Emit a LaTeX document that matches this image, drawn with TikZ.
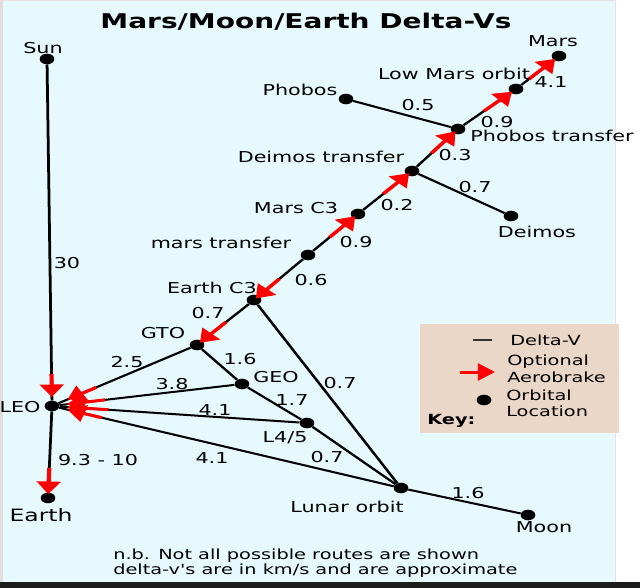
\documentclass[tikz,border=0pt]{standalone}
\usepackage{fontspec}
\setmainfont{DejaVu Sans}
\usetikzlibrary{arrows.meta,calc}
\definecolor{panel}{RGB}{230,249,253}
\definecolor{keybg}{RGB}{235,215,200}
\definecolor{aero}{RGB}{255,0,0}
\definecolor{rim}{RGB}{238,222,222}
\definecolor{leftstrip}{RGB}{226,220,220}
\definecolor{bottombar}{RGB}{28,28,28}
\newcommand\straightq{\XeTeXglyph\XeTeXcharglyph"0027\relax}
\tikzset{
  dot/.style={circle, fill=black, inner sep=0pt, minimum size=10.6pt},
  lbl/.style={inner sep=0pt, font=\fontsize{15}{18}\selectfont},
  keytxt/.style={inner sep=0pt, anchor=west, font=\fontsize{14}{16}\selectfont},
  notetxt/.style={inner sep=0pt, anchor=west, font=\fontsize{14}{16}\selectfont},
  dv/.style={line width=2pt, black},
  aerob/.style={aero, line width=3pt, -{Triangle[length=12.5pt,width=17pt]}}
}
\begin{document}
\begin{tikzpicture}[x=1pt,y=-1pt]
\useasboundingbox (0,0) rectangle (640,588);
\fill[white] (0,0) rectangle (640,588);
\fill[leftstrip] (0,0) rectangle (3,582);
\fill[panel] (3,1) rectangle (615,582);
\draw[rim, line width=1pt] (3,0.5) -- (615,0.5) -- (615,582);
\fill[bottombar] (0,582) rectangle (640,588);
\fill[keybg] (420,324) rectangle (619,433);

\begin{scope}[transform canvas={xscale=1.38}, x=0.72464pt, y=-1pt]
% title
\node[inner sep=0pt, font=\bfseries\fontsize{20.3}{24}\selectfont] (title) at (306,22) {Mars/Moon/Earth Delta-Vs};

% orbital locations
\node[dot] (sun) at (47,59) {};
\node[dot] (leo) at (52,406) {};
\node[dot] (earth) at (48,498) {};
\node[dot] (gto) at (197,345) {};
\node[dot] (ec3) at (254,300) {};
\node[dot] (mt) at (308,255) {};
\node[dot] (mc3) at (358,214) {};
\node[dot] (dt) at (412,171) {};
\node[dot] (pt) at (458,129) {};
\node[dot] (lmo) at (516,89) {};
\node[dot] (mars) at (559,56) {};
\node[dot] (phobos) at (346,99) {};
\node[dot] (deimos) at (511,216) {};
\node[dot] (geo) at (242,384) {};
\node[dot] (l45) at (307,423) {};
\node[dot] (lunar) at (401,488) {};
\node[dot] (moon) at (528,515) {};

% delta-v connectors
\draw[dv] (sun) -- (leo);
\draw[dv] (leo) -- (earth);
\draw[dv] (leo) -- (gto);
\draw[dv] (leo) -- (geo);
\draw[dv] (leo) -- (l45);
\draw[dv] (leo) -- (lunar);
\draw[dv] (gto) -- (ec3);
\draw[dv] (gto) -- (geo);
\draw[dv] (geo) -- (l45);
\draw[dv] (l45) -- (lunar);
\draw[dv] (ec3) -- (lunar);
\draw[dv] (lunar) -- (moon);
\draw[dv] (ec3) -- (mt);
\draw[dv] (mt) -- (mc3);
\draw[dv] (mc3) -- (dt);
\draw[dv] (dt) -- (deimos);
\draw[dv] (dt) -- (pt);
\draw[dv] (pt) -- (phobos);
\draw[dv] (pt) -- (lmo);
\draw[dv] (lmo) -- (mars);

% optional aerobrake arrows
\draw[aerob] ($(leo)!32pt!(sun)$) -- ($(leo)!9pt!(sun)$);
\draw[aerob] ($(earth)!30pt!(leo)$) -- ($(earth)!4pt!(leo)$);
\draw[aerob] ($(leo)!37pt!(gto)$) -- ($(leo)!13pt!(gto)$);
\draw[aerob] ($(leo)!39pt!(geo)$) -- ($(leo)!11pt!(geo)$);
\draw[aerob] ($(leo)!41pt!(l45)$) -- ($(leo)!11pt!(l45)$);
\draw[aerob] ($(leo)!38pt!(lunar)$) -- ($(leo)!12pt!(lunar)$);
\draw[aerob] ($(gto)!31pt!(ec3)$) -- ($(gto)!3pt!(ec3)$);
\draw[aerob] ($(ec3)!28pt!(mt)$) -- ($(ec3)!2pt!(mt)$);
\draw[aerob] ($(mc3)!31pt!(mt)$) -- ($(mc3)!3pt!(mt)$);
\draw[aerob] ($(dt)!31pt!(mc3)$) -- ($(dt)!3pt!(mc3)$);
\draw[aerob] ($(pt)!31pt!(dt)$) -- ($(pt)!3pt!(dt)$);
\draw[aerob] ($(lmo)!32pt!(pt)$) -- ($(lmo)!4pt!(pt)$);
\draw[aerob] ($(mars)!32pt!(lmo)$) -- ($(mars)!4pt!(lmo)$);

% location labels
\node[lbl] (tsun) at (43,48) {Sun};
\node[lbl] (tleo) at (20,407) {LEO};
\node[inner sep=0pt, font=\fontsize{17}{20}\selectfont] (tearth) at (41,515) {Earth};
\node[lbl] (tgto) at (163,333) {GTO};
\node[lbl] (tec3) at (212,288) {Earth C3};
\node[lbl] (tmt) at (221,243) {mars transfer};
\node[lbl] (tmc3) at (296,208) {Mars C3};
\node[lbl] (tdt) at (321,157) {Deimos transfer};
\node[lbl] (tpt) at (552,136) {Phobos transfer};
\node[lbl] (tlmo) at (454,74) {Low Mars orbit};
\node[lbl] (tmars) at (553,41) {Mars};
\node[lbl] (tphobos) at (300,90) {Phobos};
\node[lbl] (tdeimos) at (537,232) {Deimos};
\node[lbl] (tgeo) at (276,377) {GEO};
\node[lbl] (tl45) at (285,438) {L4/5};
\node[lbl] (tlunar) at (347,507) {Lunar orbit};
\node[lbl] (tmoon) at (544,527) {Moon};

% delta-v values
\node[lbl] (v30) at (67,263) {30};
\node[lbl] (v93) at (98,460) {9.3 - 10};
\node[lbl] (v25) at (127,362) {2.5};
\node[lbl] (v38) at (172,384) {3.8};
\node[lbl] (v41a) at (215,410) {4.1};
\node[lbl] (v41b) at (212,458) {4.1};
\node[lbl] (v16a) at (240,359) {1.6};
\node[lbl] (v17) at (292,400) {1.7};
\node[lbl] (v07a) at (327,457) {0.7};
\node[lbl] (v07b) at (340,383) {0.7};
\node[lbl] (v07c) at (208,313) {0.7};
\node[lbl] (v06) at (311,280) {0.6};
\node[lbl] (v09a) at (356,242) {0.9};
\node[lbl] (v02) at (397,205) {0.2};
\node[lbl] (v03) at (455,155) {0.3};
\node[lbl] (v07d) at (475,187) {0.7};
\node[lbl] (v05) at (418,105) {0.5};
\node[lbl] (v09b) at (497,122) {0.9};
\node[lbl] (v41c) at (551,82) {4.1};
\node[lbl] (v16b) at (468,493) {1.6};

% key
\coordinate (kl1) at (473,340);
\coordinate (kl2) at (492,340);
\draw[line width=1.5pt, black!80] (kl1) -- (kl2);
\node[keytxt] (kdv) at (510,340) {Delta-V};
\coordinate (ka1) at (460,372);
\coordinate (ka2) at (495,372);
\draw[aerob] (ka1) -- (ka2);
\node[keytxt] (kopt) at (507,362) {Optional};
\node[keytxt] (kaer) at (507,377) {Aerobrake};
\node[dot] (kdot) at (484,400) {};
\node[keytxt] (korb) at (506,395) {Orbital};
\node[keytxt] (kloc) at (506,411) {Location};
\node[keytxt, font=\bfseries\fontsize{14}{16}\selectfont] (kkey) at (427,421) {Key:};

% notes
\node[notetxt] (n1) at (113,556) {n.b. Not all possible routes are shown};
\node[notetxt] (n2) at (113,571) {delta-v\straightq s are in km/s and are approximate};
\end{scope}
\end{tikzpicture}
\end{document}
